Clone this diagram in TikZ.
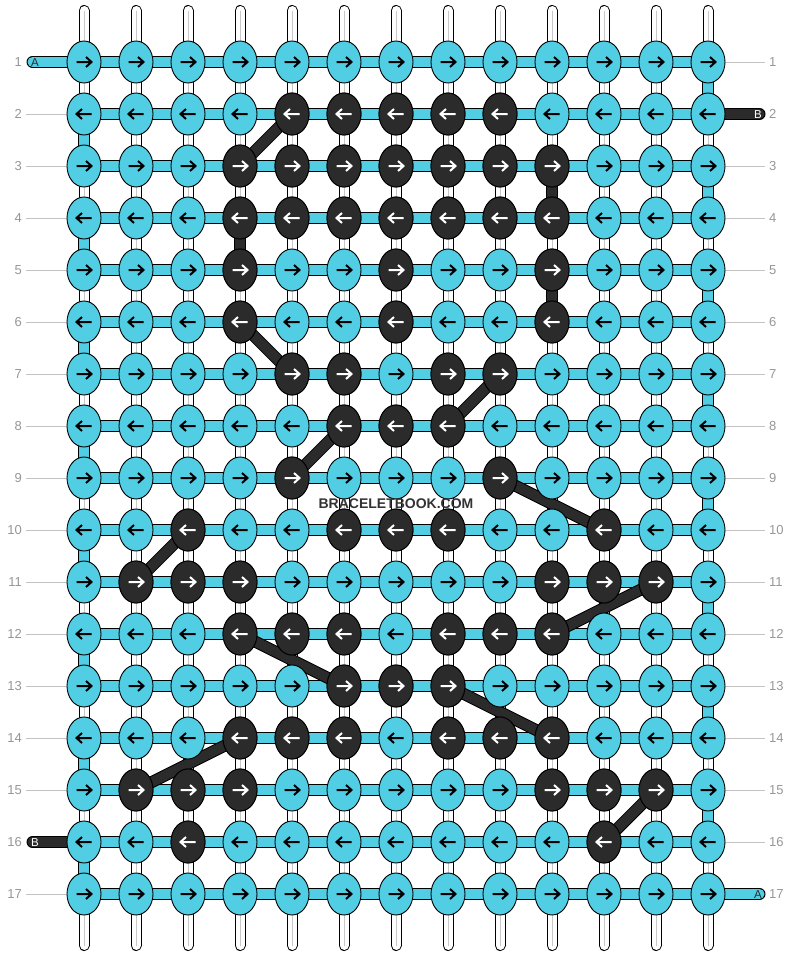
\documentclass[tikz,border=0pt]{standalone}
\usepackage{fontspec}
\setmainfont{Liberation Sans}
\usetikzlibrary{shapes.geometric}
\definecolor{bbcyan}{RGB}{82,206,228}
\definecolor{bbdark}{RGB}{43,43,43}
\definecolor{lblgray}{RGB}{150,150,150}
\definecolor{lngray}{RGB}{195,195,195}
\definecolor{strgray}{RGB}{200,200,200}
\definecolor{wmgray}{RGB}{51,51,51}
\begin{document}
\begin{tikzpicture}[x=1pt,y=-1pt,
  knot/.style={ellipse,draw=black,line width=0.9pt,fill=bbcyan,minimum width=34pt,minimum height=42pt,inner sep=0pt},
  darkknot/.style={knot,fill=bbdark},
  arrowblk/.style={line width=2pt,black,line join=miter},
  arrowwht/.style={line width=2pt,white,line join=miter},
  lbl/.style={font=\fontsize{13}{13}\selectfont,text=lblgray,inner sep=0pt},
  pilltxt/.style={font=\fontsize{11.5}{11.5}\selectfont,inner sep=0pt},
  rowline/.style={lngray,line width=0.9pt}]
\useasboundingbox (0,0) rectangle (792,956);
% grid coordinates
\foreach \r in {1,...,17}{\foreach \c in {1,...,13}{\coordinate (p-\r-\c) at ({32+52*\c},{10+52*\r});}}
% vertical strings
\foreach \c in {1,...,13}{
  \coordinate (st-\c) at ({32+52*\c},10.5);
  \coordinate (sb-\c) at ({32+52*\c},945.5);
  \draw[line width=11pt,black,line cap=round] (st-\c) -- (sb-\c);
  \draw[line width=9pt,white,line cap=round] (st-\c) -- (sb-\c);
  \draw[line width=0.8pt,strgray] (st-\c) -- (sb-\c);
}
% row labels and lines
\foreach \r in {1,...,17}{
  \node[lbl,anchor=east] (ln-\r) at (22,{10+52*\r}) {\r};
  \node[lbl,anchor=west] (rn-\r) at (769,{10+52*\r}) {\r};
  \coordinate (le-\r) at (26,{10+52*\r});
  \coordinate (re-\r) at (765,{10+52*\r});
}
\foreach \r in {2,...,15,17}{\draw[rowline] (le-\r) -- (p-\r-1);}
\foreach \r in {1,3,4,...,16}{\draw[rowline] (p-\r-13) -- (re-\r);}
% horizontal bars
\foreach \r in {1,...,17}{
  \draw[line width=12pt,black] (p-\r-1) -- (p-\r-13);
  \draw[line width=10pt,bbcyan] (p-\r-1) -- (p-\r-13);
}
% edge turns
\foreach \r in {1,3,...,15}{
  \pgfmathtruncatemacro\snext{\r+1}
  \draw[line width=12pt,black] (p-\r-13) -- (p-\snext-13);
  \draw[line width=10pt,bbcyan] (p-\r-13) -- (p-\snext-13);
}
\foreach \r in {2,4,...,16}{
  \pgfmathtruncatemacro\snext{\r+1}
  \draw[line width=12pt,black] (p-\r-1) -- (p-\snext-1);
  \draw[line width=10pt,bbcyan] (p-\r-1) -- (p-\snext-1);
}
% dark thread connectors
\foreach \a/\b in {2-5/3-4,6-4/7-5,7-9/8-8,8-6/9-5,9-9/10-11,10-3/11-2,11-12/12-10,12-4/13-6,13-8/14-10,14-4/15-2,15-12/16-11,3-10/4-10,4-4/5-4,5-10/6-10}{
  \draw[line width=12pt,black] (p-\a) -- (p-\b);
  \draw[line width=10pt,bbdark] (p-\a) -- (p-\b);
}
% thread ends
\coordinate (ea1) at (32.5,62);
\coordinate (eb2) at (759.5,114);
\coordinate (eb16) at (32.5,842);
\coordinate (ea17) at (759.5,894);
\draw[line width=12pt,black,line cap=round] (ea1) -- (p-1-1);
\draw[line width=10pt,bbcyan,line cap=round] (ea1) -- (p-1-1);
\draw[line width=12pt,black,line cap=round] (p-2-13) -- (eb2);
\draw[line width=10pt,bbdark,line cap=round] (p-2-13) -- (eb2);
\draw[line width=12pt,black,line cap=round] (eb16) -- (p-16-1);
\draw[line width=10pt,bbdark,line cap=round] (eb16) -- (p-16-1);
\draw[line width=12pt,black,line cap=round] (p-17-13) -- (ea17);
\draw[line width=10pt,bbcyan,line cap=round] (p-17-13) -- (ea17);
\node[pilltxt,text=bbdark] (ta1) at (35,62.5) {A};
\node[pilltxt,text=white] (tb2) at (758,114.5) {B};
\node[pilltxt,text=white] (tb16) at (35,842.5) {B};
\node[pilltxt,text=bbdark] (ta17) at (758,894.5) {A};
% knots
\foreach \r in {1,...,17}{
  \pgfmathtruncatemacro\adir{2*mod(\r,2)-1}
  \foreach \c in {1,...,13}{
    \node[knot] (n-\r-\c) at (p-\r-\c) {};
    \draw[arrowblk,shift={(p-\r-\c)},xscale=\adir] (-7.5,0) -- (7,0) (2,-5) -- (7.5,0) -- (2,5);
  }
}
\foreach \r/\c in {2/5,2/6,2/7,2/8,2/9,
  3/4,3/5,3/6,3/7,3/8,3/9,3/10,
  4/4,4/5,4/6,4/7,4/8,4/9,4/10,
  5/4,5/7,5/10,
  6/4,6/7,6/10,
  7/5,7/6,7/8,7/9,
  8/6,8/7,8/8,
  9/5,9/9,
  10/3,10/6,10/7,10/8,10/11,
  11/2,11/3,11/4,11/10,11/11,11/12,
  12/4,12/5,12/6,12/8,12/9,12/10,
  13/6,13/7,13/8,
  14/4,14/5,14/6,14/8,14/9,14/10,
  15/2,15/3,15/4,15/10,15/11,15/12,
  16/3,16/11}{
  \pgfmathtruncatemacro\adir{2*mod(\r,2)-1}
  \node[darkknot] (d-\r-\c) at (p-\r-\c) {};
  \draw[arrowwht,shift={(p-\r-\c)},xscale=\adir] (-7.5,0) -- (7,0) (2,-5) -- (7.5,0) -- (2,5);
}
% watermark
\node[font=\bfseries\fontsize{14}{14}\selectfont,text=wmgray,inner sep=0pt] (wm) at (396,504) {BRACELETBOOK.COM};
\end{tikzpicture}
\end{document}
